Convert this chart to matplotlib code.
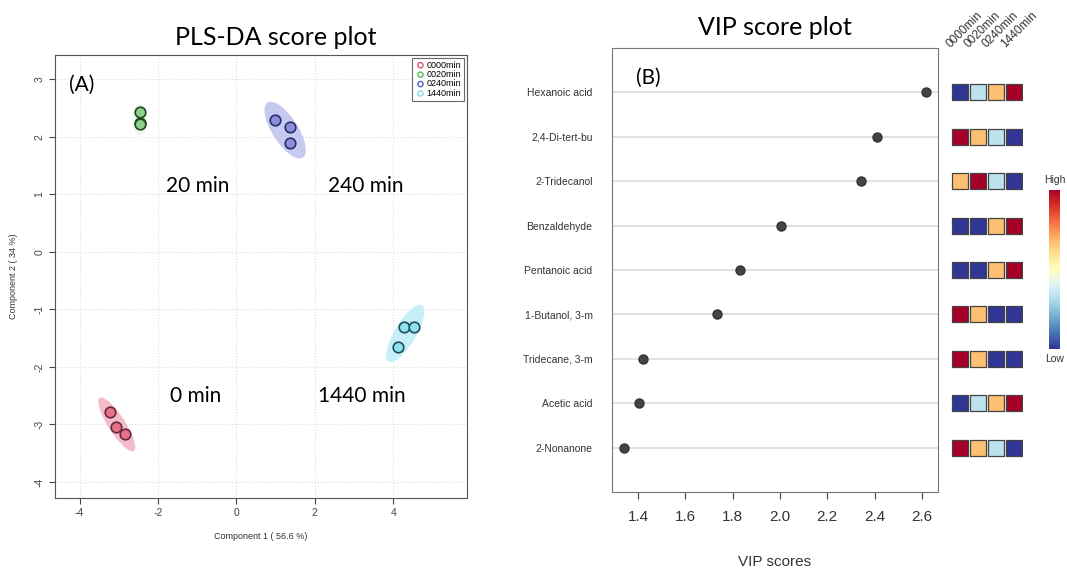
import numpy as np
import matplotlib
matplotlib.use("Agg")
import matplotlib.pyplot as plt
from matplotlib.colors import Normalize

plt.rcParams['font.family'] = ['Liberation Sans', 'DejaVu Sans']
plt.rcParams['axes.unicode_minus'] = False

# PLS-DA scores (component 1, component 2) per sampling time
groups = ['0000min', '0020min', '0240min', '1440min']
group_labels = ['0 min', '20 min', '240 min', '1440 min']
comp1 = {
    '0000min': [-3.23, -3.08, -2.85],
    '0020min': [-2.47, -2.47, -2.45],
    '0240min': [0.99, 1.38, 1.36],
    '1440min': [4.27, 4.53, 4.13],
}
comp2 = {
    '0000min': [-2.79, -3.05, -3.16],
    '0020min': [2.43, 2.24, 2.23],
    '0240min': [2.29, 2.17, 1.89],
    '1440min': [-1.30, -1.30, -1.66],
}
label_pos_x = [-1.05, -1.0, 3.3, 3.2]
label_pos_y = [-2.5, 1.15, 1.15, -2.5]

# VIP scores, top 9 features
features = ['Hexanoic acid', '2,4-Di-tert-bu', '2-Tridecanol', 'Benzaldehyde',
            'Pentanoic acid', '1-Butanol, 3-m', 'Tridecane, 3-m', 'Acetic acid',
            '2-Nonanone']
vip = [2.617, 2.41, 2.342, 2.004, 1.831, 1.734, 1.421, 1.404, 1.341]
# relative abundance level per group (1 = low ... 4 = high)
levels = [
    [1, 2, 3, 4],
    [4, 3, 2, 1],
    [3, 4, 2, 1],
    [1, 1, 3, 4],
    [1, 1, 3, 4],
    [4, 3, 1, 1],
    [4, 3, 1, 1],
    [1, 2, 3, 4],
    [4, 3, 2, 1],
]

point_fill = ['#e6718b', '#8fd08f', '#8a90dc', '#8fe2ee']
point_edge = ['#6a2a3a', '#1f4a1f', '#2a2f6a', '#1f4f5a']
ellipse_fill = ['#f4bccb', '#eef8ee', '#c6c9f0', '#c6eff8']
legend_col = ['#d9536b', '#55b855', '#5560c0', '#80d8ea']


def conf_ellipse(x, y, k=2.4, floor=0.006, n=120):
    x = np.asarray(x)
    y = np.asarray(y)
    cov = np.cov(x, y)
    vals, vecs = np.linalg.eigh(cov)
    vals = np.clip(vals, floor, None)
    t = np.linspace(0, 2 * np.pi, n)
    circ = np.vstack([np.cos(t), np.sin(t)]) * (k * np.sqrt(vals))[:, None]
    pts = vecs @ circ
    return pts[0] + x.mean(), pts[1] + y.mean()


fig = plt.figure(figsize=(10.67, 5.70), dpi=100)

# ---- (A) PLS-DA score plot ----
ax1 = fig.add_axes([0.0515, 0.1263, 0.386, 0.777])
for i, g in enumerate(groups):
    ex, ey = conf_ellipse(comp1[g], comp2[g])
    ax1.fill(ex, ey, color=ellipse_fill[i], lw=0, zorder=1)
    ax1.scatter(comp1[g], comp2[g], s=58, c=point_fill[i],
                edgecolors=point_edge[i], linewidths=1.2, zorder=3)
    ax1.text(label_pos_x[i], label_pos_y[i], group_labels[i], fontsize=15,
             family=['Lato', 'DejaVu Sans'], ha='center', va='center', zorder=4)

ax1.set_xlim(-4.63, 5.88)
ax1.set_ylim(-4.28, 3.42)
ax1.set_xticks([-4, -2, 0, 2, 4])
ax1.set_yticks([-4, -3, -2, -1, 0, 1, 2, 3])
ax1.tick_params(labelsize=7.5, colors='#444444', length=4, width=0.8)
for lab in ax1.get_yticklabels():
    lab.set_rotation(90)
    lab.set_va('center')
ax1.grid(True, ls=':', color='#dcdcdc', lw=0.8)
ax1.set_axisbelow(True)
for sp in ax1.spines.values():
    sp.set_color('#555555')
ax1.set_xlabel('Component 1 ( 56.6 %)', fontsize=6.5, color='#333333', labelpad=10)
ax1.set_ylabel('Component 2 ( 34 %)', fontsize=6.5, color='#333333', labelpad=12)

handles = [ax1.scatter([], [], s=14, facecolors='none', edgecolors=c, linewidths=1)
           for c in legend_col]
leg = ax1.legend(handles, groups, loc='upper right', fontsize=6.5, frameon=True,
                 fancybox=False, edgecolor='#444444', handletextpad=0.1,
                 borderpad=0.3, labelspacing=0.05, handlelength=1.2,
                 borderaxespad=0.3)
leg.get_frame().set_linewidth(0.8)

ax1.text(0.035, 0.955, '(A)', transform=ax1.transAxes, fontsize=15,
         family=['Lato', 'DejaVu Sans'], va='top')
fig.text(0.258, 0.935, 'PLS-DA score plot', fontsize=18,
         family=['Lato', 'DejaVu Sans'], ha='center', va='center')

# ---- (B) VIP score plot ----
ypos = np.arange(len(features), 0, -1)
ax2 = fig.add_axes([0.5736, 0.1368, 0.3055, 0.779])
ax2.hlines(ypos, 1.29, 2.668, color='#dddddd', lw=1.2, zorder=1)
ax2.scatter(vip, ypos, s=42, c='#444444', edgecolors='#333333', zorder=3)
ax2.set_xlim(1.29, 2.668)
ax2.set_ylim(0, len(features) + 1)
ax2.set_xticks([1.4, 1.6, 1.8, 2.0, 2.2, 2.4, 2.6])
ax2.set_xticklabels(['1.4', '1.6', '1.8', '2.0', '2.2', '2.4', '2.6'])
ax2.set_yticks(ypos)
ax2.set_yticklabels(features)
ax2.tick_params(axis='x', labelsize=11, colors='#444444', length=5, pad=8,
                labelcolor='#333333')
ax2.tick_params(axis='y', labelsize=7.5, length=0, pad=14, labelcolor='#333333')
for sp in ax2.spines.values():
    sp.set_color('#777777')
ax2.set_xlabel('VIP scores', fontsize=11, color='#333333', labelpad=22)
ax2.text(0.075, 0.955, '(B)', transform=ax2.transAxes, fontsize=15,
         family=['Lato', 'DejaVu Sans'], va='top')
fig.text(0.726, 0.951, 'VIP score plot', fontsize=18,
         family=['Lato', 'DejaVu Sans'], ha='center', va='center')

# mini heatmap of group levels next to the dot plot
cmap = plt.get_cmap('RdYlBu_r')
norm = Normalize(vmin=1, vmax=4)
ax3 = fig.add_axes([0.8913, 0.1368, 0.0675, 0.779], sharey=ax2)
lev = np.array(levels)
for j in range(len(groups)):
    ax3.scatter(np.full(len(features), j + 1), ypos, c=lev[:, j], cmap=cmap,
                norm=norm, marker='s', s=135, edgecolors='#444444',
                linewidths=0.9)
ax3.set_xlim(0.5, len(groups) + 0.5)
ax3.axis('off')
for j, g in enumerate(groups):
    ax3.text(j + 0.6, len(features) + 0.95, g, rotation=45, fontsize=8.5,
             color='#333333', ha='left', va='bottom', rotation_mode='anchor')

# color key
ax4 = fig.add_axes([0.983, 0.3877, 0.0103, 0.279])
grad = np.linspace(0, 1, 256)[:, None]
ax4.imshow(grad, aspect='auto', cmap=cmap, origin='lower')
ax4.set_xticks([])
ax4.set_yticks([])
for sp in ax4.spines.values():
    sp.set_visible(False)
ax4.text(0.5, 1.03, 'High', transform=ax4.transAxes, fontsize=7.5,
         color='#333333', ha='center', va='bottom')
ax4.text(0.5, -0.03, 'Low', transform=ax4.transAxes, fontsize=7.5,
         color='#333333', ha='center', va='top')

fig.savefig('out.png', dpi=100, facecolor='white')
